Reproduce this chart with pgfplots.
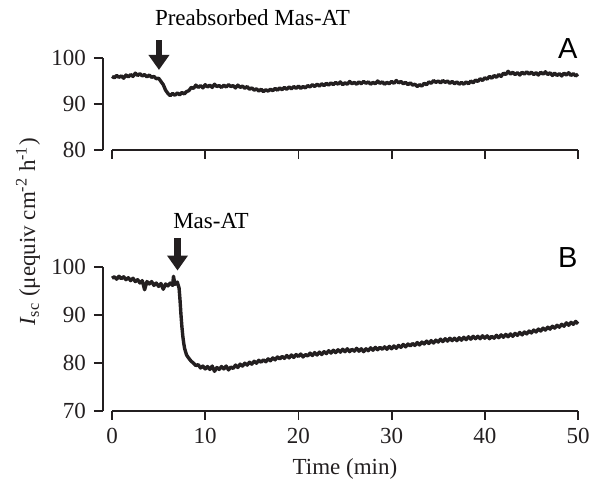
\documentclass[border=0pt]{standalone}
\usepackage{fontspec}
\setmainfont{Liberation Serif}
\newfontfamily\panelfont{Liberation Sans}
\usepackage{pgfplots}
\pgfplotsset{compat=1.18}
\usetikzlibrary{arrows.meta}
\definecolor{ink}{HTML}{231F20}

\pgfplotsset{
  trace axis/.style={
    scale only axis, width=233pt,
    axis lines=left,
    axis line style={-, line width=0.9pt, ink},
    tick style={line width=0.9pt, ink},
    tick align=outside, major tick length=4.5pt,
    minor tick num=0,
    axis y line shift=4.5pt,
    xmin=0, xmax=50, xtick={0,10,...,50},
    clip=false,
    /pgf/number format/assume math mode=true,
    every tick label/.append style={font=\fontsize{11.5}{13}\selectfont, ink},
    label style={font=\fontsize{11.5}{13}\selectfont, ink},
  },
  trace/.style={ink, line width=1.7pt, line join=round},
}
\tikzset{marker/.style={ink, line width=3.2pt, -{Triangle[width=10pt,length=7.5pt]}}}

\begin{document}
\fontsize{11.5}{13}\selectfont
\begin{tikzpicture}
\useasboundingbox (-56pt,-35.15pt) rectangle (242.5pt,205.35pt);

% panel A
\begin{axis}[trace axis, at={(0pt,130.35pt)}, anchor=south west,
    height=46pt, ymin=80, ymax=100, ytick={80,90,100}, xticklabels={}]
\addplot[trace] coordinates {
(0,96.0) (0.25,95.7) (0.5,96.2) (0.75,95.8) (1,96.1) (1.25,95.6) (1.5,96.3) (1.75,95.9)
(2,96.4) (2.25,96.0) (2.5,96.7) (2.75,96.2) (3,96.6) (3.25,96.1) (3.5,96.4) (3.75,95.9)
(4,96.3) (4.25,95.8) (4.5,96.0) (4.75,95.5) (5,95.6) (5.25,94.9) (5.5,94.2) (5.75,93.0)
(6,92.3) (6.25,91.8) (6.5,92.3) (6.75,91.9) (7,92.4) (7.25,92.0) (7.5,92.5) (7.75,92.2)
(8,92.7) (8.25,92.9) (8.5,93.6) (8.75,93.4) (9,94.1) (9.25,93.6) (9.5,94.0) (9.75,93.5)
(10,94.2) (10.25,93.7) (10.5,94.1) (10.75,93.6) (11,94.3) (11.25,93.8) (11.5,94.0) (11.75,93.6)
(12,94.1) (12.25,93.7) (12.5,94.2) (12.75,93.8) (13,94.0) (13.25,93.5) (13.5,94.1) (13.75,93.6)
(14,93.9) (14.25,93.4) (14.5,93.8) (14.75,93.2) (15,93.5) (15.25,93.0) (15.5,93.3) (15.75,92.8)
(16,93.2) (16.25,92.7) (16.5,93.1) (16.75,92.8) (17,93.2) (17.25,92.9) (17.5,93.4) (17.75,93.0)
(18,93.5) (18.25,93.1) (18.5,93.6) (18.75,93.2) (19,93.7) (19.25,93.3) (19.5,93.8) (19.75,93.4)
(20,93.9) (20.25,93.4) (20.5,93.8) (20.75,93.5) (21,94.0) (21.25,93.7) (21.5,94.2) (21.75,93.8)
(22,94.3) (22.25,93.9) (22.5,94.4) (22.75,94.0) (23,94.5) (23.25,94.1) (23.5,94.6) (23.75,94.2)
(24,94.7) (24.25,94.3) (24.5,94.8) (24.75,94.2) (25,94.6) (25.25,94.3) (25.5,94.9) (25.75,94.4)
(26,94.7) (26.25,94.3) (26.5,94.8) (26.75,94.4) (27,94.9) (27.25,94.5) (27.5,94.8) (27.75,94.3)
(28,94.7) (28.25,94.4) (28.5,95.0) (28.75,94.5) (29,94.8) (29.25,94.3) (29.5,94.7) (29.75,94.4)
(30,94.9) (30.25,94.5) (30.5,95.1) (30.75,94.6) (31,94.9) (31.25,94.4) (31.5,94.7) (31.75,94.2)
(32,94.6) (32.25,94.1) (32.5,94.3) (32.75,93.8) (33,94.2) (33.25,93.9) (33.5,94.5) (33.75,94.2)
(34,94.8) (34.25,94.5) (34.5,95.1) (34.75,94.7) (35,95.0) (35.25,94.6) (35.5,95.1) (35.75,94.7)
(36,95.0) (36.25,94.5) (36.5,94.9) (36.75,94.4) (37,94.8) (37.25,94.3) (37.5,94.7) (37.75,94.3)
(38,94.8) (38.25,94.4) (38.5,95.0) (38.75,94.6) (39,95.2) (39.25,94.9) (39.5,95.5) (39.75,95.1)
(40,95.7) (40.25,95.4) (40.5,96.0) (40.75,95.6) (41,96.2) (41.25,95.8) (41.5,96.4) (41.75,96.0)
(42,96.7) (42.25,96.4) (42.5,97.1) (42.75,96.5) (43,96.9) (43.25,96.4) (43.5,96.8) (43.75,96.3)
(44,96.9) (44.25,96.5) (44.5,97.0) (44.75,96.5) (45,96.9) (45.25,96.4) (45.5,96.8) (45.75,96.3)
(46,96.9) (46.25,96.5) (46.5,97.0) (46.75,96.4) (47,96.8) (47.25,96.2) (47.5,96.7) (47.75,96.2)
(48,96.6) (48.25,96.1) (48.5,96.7) (48.75,96.3) (49,96.8) (49.25,96.2) (49.5,96.6) (49.75,96.1)
(50,96.5)
};
\draw[marker] (axis cs:5.04,103.9) -- (axis cs:5.04,97.4);
\node[anchor=base] at (axis cs:15.07,106.96) {Preabsorbed Mas-AT};
\node[anchor=base, font=\panelfont\fontsize{14.5}{16}\selectfont] at (axis cs:48.9,99.8) {A};
\end{axis}

% panel B
\begin{axis}[trace axis, at={(0pt,0pt)}, anchor=south west,
    height=72pt, ymin=70, ymax=100, ytick={70,80,90,100},
    xlabel={Time (min)}]
\addplot[trace] coordinates {
(0,97.6) (0.25,97.9) (0.5,97.4) (0.75,98.0) (1,97.5) (1.25,97.9) (1.5,97.3) (1.75,97.7)
(2,97.1) (2.25,97.6) (2.5,96.9) (2.75,97.3) (3,96.6) (3.25,97.1) (3.5,95.2) (3.75,96.9)
(4,96.4) (4.25,96.9) (4.5,96.1) (4.75,96.6) (5,95.9) (5.25,96.5) (5.5,95.3) (5.75,96.4)
(6,96.0) (6.25,96.6) (6.5,96.1) (6.6,98.0) (6.75,96.3) (7,96.8) (7.1,96.2) (7.2,95.5)
(7.3,93.0) (7.4,90.0) (7.5,87.5) (7.6,85.5) (7.7,84.0) (7.8,82.9) (8,81.6) (8.25,80.9)
(8.5,80.3) (8.75,79.9) (9,79.4) (9.25,79.6) (9.5,78.9) (9.75,79.3) (10,78.7) (10.25,79.2)
(10.5,78.6) (10.75,79.3) (11,78.2) (11.25,79.0) (11.5,78.6) (11.75,79.2) (12,78.7) (12.25,79.3)
(12.5,78.5) (12.75,79.1) (13,78.8) (13.25,79.5) (13.5,79.0) (13.75,79.7) (14,79.3) (14.25,79.9)
(14.5,79.5) (14.75,80.1) (15,79.7) (15.25,80.3) (15.5,79.9) (15.75,80.5) (16,80.1) (16.25,80.6)
(16.5,80.2) (16.75,80.8) (17,80.4) (17.25,81.0) (17.5,80.6) (17.75,81.2) (18,80.8) (18.25,81.3)
(18.5,80.9) (18.75,81.5) (19,81.0) (19.25,81.6) (19.5,81.1) (19.75,81.7) (20,81.3) (20.25,81.8)
(20.5,81.2) (20.75,81.7) (21,81.4) (21.25,82.0) (21.5,81.5) (21.75,82.1) (22,81.6) (22.25,82.2)
(22.5,81.7) (22.75,82.3) (23,81.9) (23.25,82.5) (23.5,82.0) (23.75,82.6) (24,82.1) (24.25,82.7)
(24.5,82.2) (24.75,82.8) (25,82.3) (25.25,82.9) (25.5,82.3) (25.75,82.8) (26,82.4) (26.25,83.0)
(26.5,82.4) (26.75,82.9) (27,82.3) (27.25,82.9) (27.5,82.5) (27.75,83.1) (28,82.6) (28.25,83.2)
(28.5,82.7) (28.75,83.2) (29,82.8) (29.25,83.3) (29.5,82.8) (29.75,83.4) (30,82.9) (30.25,83.5)
(30.5,83.0) (30.75,83.6) (31,83.2) (31.25,83.8) (31.5,83.3) (31.75,83.9) (32,83.5) (32.25,84.0)
(32.5,83.6) (32.75,84.2) (33,83.7) (33.25,84.3) (33.5,83.9) (33.75,84.5) (34,84.0) (34.25,84.6)
(34.5,84.1) (34.75,84.7) (35,84.3) (35.25,84.9) (35.5,84.4) (35.75,85.0) (36,84.5) (36.25,85.1)
(36.5,84.6) (36.75,85.1) (37,84.6) (37.25,85.2) (37.5,84.7) (37.75,85.3) (38,84.8) (38.25,85.4)
(38.5,84.9) (38.75,85.5) (39,85.0) (39.25,85.5) (39.5,85.0) (39.75,85.6) (40,85.1) (40.25,85.6)
(40.5,85.0) (40.75,85.5) (41,85.1) (41.25,85.7) (41.5,85.2) (41.75,85.8) (42,85.3) (42.25,85.9)
(42.5,85.4) (42.75,86.0) (43,85.5) (43.25,86.1) (43.5,85.7) (43.75,86.3) (44,85.8) (44.25,86.4)
(44.5,86.0) (44.75,86.6) (45,86.2) (45.25,86.8) (45.5,86.4) (45.75,87.0) (46,86.6) (46.25,87.2)
(46.5,86.8) (46.75,87.4) (47,87.0) (47.25,87.6) (47.5,87.2) (47.75,87.8) (48,87.4) (48.25,88.0)
(48.5,87.6) (48.75,88.3) (49,87.8) (49.25,88.4) (49.5,88.0) (49.75,88.6) (50,88.1)
};
\draw[marker] (axis cs:7.03,105.9) -- (axis cs:7.03,99.2);
\node[anchor=base] at (axis cs:10.62,108.06) {Mas-AT};
\node[anchor=base, font=\panelfont\fontsize{14.5}{16}\selectfont] at (axis cs:48.9,99.9) {B};
\end{axis}

\node[rotate=90, ink] at (-42pt,89.35pt)
  {\textit{I}\textsubscript{sc} (μequiv cm\textsuperscript{-2} h\textsuperscript{-1})};
\end{tikzpicture}
\end{document}
